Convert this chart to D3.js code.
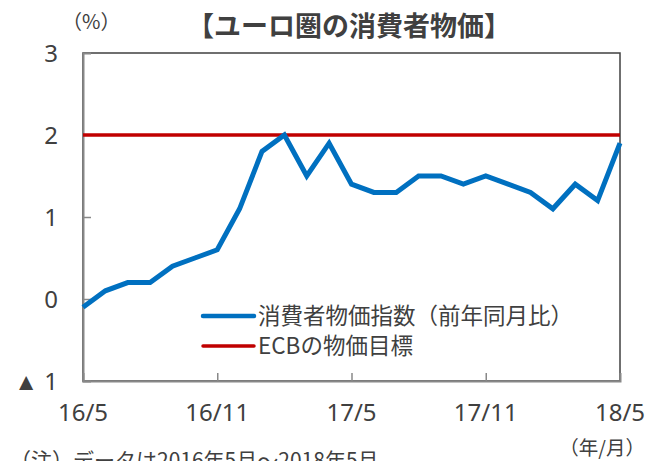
<!DOCTYPE html>
<html><head><meta charset="utf-8">
<script src="https://cdn.jsdelivr.net/npm/d3@7"></script>
<style>
body{margin:0;background:#fff;}
svg{display:block;font-family:"Noto Sans CJK JP","Noto Sans",sans-serif;}
.num{font-family:"Noto Sans",sans-serif;}
</style></head>
<body>
<svg id="c" width="657" height="461"></svg>
<script>
const months = ["16/5","16/6","16/7","16/8","16/9","16/10","16/11","16/12","17/1","17/2","17/3","17/4","17/5","17/6","17/7","17/8","17/9","17/10","17/11","17/12","18/1","18/2","18/3","18/4","18/5"];
const cpi = [-0.1,0.1,0.2,0.2,0.4,0.5,0.6,1.1,1.8,2.0,1.5,1.9,1.4,1.3,1.3,1.5,1.5,1.4,1.5,1.4,1.3,1.1,1.4,1.2,1.9];
const target = [2,2,2,2,2,2,2,2,2,2,2,2,2,2,2,2,2,2,2,2,2,2,2,2,2];
const xTickLabels = ["16/5","16/11","17/5","17/11","18/5"];
const yTicks = [3,2,1,0,-1];
const yTickLabels = ["3","2","1","0","▲ 1"];
const seriesNames = ["消費者物価指数（前年同月比）","ECBの物価目標"];
const title = "【ユーロ圏の消費者物価】";

const svg = d3.select("#c");
const L=83, R=620, T=53, B=381;
const x = d3.scalePoint().domain(months).range([L,R]);
const y = d3.scaleLinear().domain([-1,3]).range([B,T]);
const txt = "#404040";

// plot frame
svg.append("rect").attr("x",L).attr("y",T).attr("width",R-L).attr("height",B-T)
  .attr("fill","none").attr("stroke","#404040").attr("stroke-width",1.5);

// y axis
const yAxis = d3.axisRight(y).tickValues([1,0]).tickSize(8).tickFormat("");
const gy = svg.append("g").attr("transform",`translate(${L},0)`).call(yAxis);
gy.select(".domain").attr("stroke","#888").attr("stroke-width",2);
gy.selectAll(".tick line").attr("stroke","#888").attr("stroke-width",1.5);

// x axis
const xAxis = d3.axisTop(x).tickValues(["16/11","17/5","17/11"]).tickSize(8).tickFormat("");
const gx = svg.append("g").attr("transform",`translate(0,${B})`).call(xAxis);
gx.select(".domain").attr("stroke","#888").attr("stroke-width",2);
gx.selectAll(".tick line").attr("stroke","#888").attr("stroke-width",1.5);

// y tick labels
svg.append("g").selectAll("text").data(yTicks).join("text").attr("class","num")
  .attr("x",58).attr("y",d=>y(d)).attr("dy","0.36em").attr("text-anchor","end")
  .attr("font-size",24).attr("fill",txt).text((d,i)=>yTickLabels[i]);

// x tick labels
svg.append("g").selectAll("text").data(xTickLabels).join("text").attr("class","num")
  .attr("x",d=>x(d)).attr("y",412).attr("dy","0.36em").attr("text-anchor","middle")
  .attr("font-size",24).attr("fill",txt).text(d=>d);

// target line
const line = d3.line().x((d,i)=>x(months[i])).y(d=>y(d));
svg.append("path").datum(target).attr("d",line).attr("fill","none")
  .attr("stroke","#C00000").attr("stroke-width",3.5);
// cpi line
svg.append("path").datum(cpi).attr("d",line).attr("fill","none")
  .attr("stroke","#0070C0").attr("stroke-width",5).attr("stroke-linejoin","miter");

// legend
const leg = svg.append("g");
[["#0070C0",316,4.5],["#C00000",346,3.5]].forEach((c,i)=>{
  leg.append("line").attr("x1",203).attr("x2",254).attr("y1",c[1]).attr("y2",c[1])
    .attr("stroke",c[0]).attr("stroke-width",c[2]).attr("stroke-linecap","round");
  leg.append("text").attr("x",258).attr("y",c[1]).attr("dy","0.36em")
    .attr("font-size",22.5).attr("fill",txt).text(seriesNames[i]);
});

// title and labels
svg.append("text").attr("x",349).attr("y",26).attr("dy","0.36em").attr("text-anchor","middle")
  .attr("font-size",27).attr("font-weight","bold").attr("fill",txt).text(title);
svg.append("text").attr("x",62).attr("y",22).attr("dy","0.36em")
  .attr("font-size",20).attr("fill",txt).text("（%）");
svg.append("text").attr("x",645).attr("y",448).attr("dy","0.36em").attr("text-anchor","end")
  .attr("font-size",19.5).attr("fill",txt).text("（年/月）");
svg.append("text").attr("x",10).attr("y",460).attr("dy","0.36em")
  .attr("font-size",21).attr("fill",txt).text("（注）データは2016年5月～2018年5月");
</script>
</body></html>
